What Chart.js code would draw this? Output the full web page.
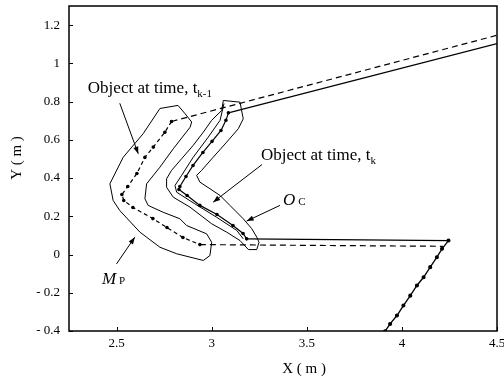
<!DOCTYPE html>
<html>
<head>
<meta charset="utf-8">
<script src="https://cdn.jsdelivr.net/npm/chart.js@4.4.1/dist/chart.umd.min.js"></script>
<style>
    html, body { margin: 0; padding: 0; background: #fff; }
    #wrap { width: 504px; height: 379px; position: relative; }
</style>
</head>
<body>
<div id="wrap"><canvas id="chart"></canvas></div>
<script>
// Axis ticks
const xTicks = [2.5, 3, 3.5, 4, 4.5];
const xTickLabels = ['2.5', '3', '3.5', '4', '4.5'];
const yTicks = [-0.4, -0.2, 0, 0.2, 0.4, 0.6, 0.8, 1, 1.2];
const yTickLabels = ['- 0.4', '- 0.2', '0', '0.2', '0.4', '0.6', '0.8', '1', '1.2'];

// Scan at time t_k (solid with dots)
const scanTk = [[3.088, 0.741], [3.075, 0.702], [3.049, 0.649], [3.002, 0.592], [2.954, 0.534],
    [2.902, 0.466], [2.865, 0.408], [2.833, 0.356], [2.828, 0.340], [2.871, 0.309],
    [2.938, 0.257], [3.028, 0.209], [3.112, 0.152], [3.165, 0.110], [3.184, 0.082]];

// Scan at time t_k-1 (dashed with dots)
const scanTk1 = [[2.789, 0.696], [2.754, 0.640], [2.693, 0.562], [2.649, 0.508], [2.607, 0.424],
    [2.559, 0.356], [2.528, 0.314], [2.538, 0.283], [2.586, 0.246], [2.691, 0.188],
    [2.765, 0.141], [2.849, 0.089], [2.938, 0.052]];

// Long walls
const upperSolid = [[3.088, 0.741], [4.5, 1.103]];
const upperDashed = [[2.789, 0.696], [4.5, 1.147]];
const lowerSolid = [[3.184, 0.082], [4.245, 0.073]];
const lowerDashed = [[2.938, 0.052], [4.216, 0.043]];
const slantWall = [[4.245, 0.073], [4.211, 0.030], [4.184, -0.014], [4.149, -0.066], [4.114, -0.119],
    [4.079, -0.162], [4.044, -0.215], [4.008, -0.267], [3.974, -0.319], [3.938, -0.363], [3.912, -0.401]];

// Outline M_P
const outlineMP = [[2.728, 0.764], [2.823, 0.780], [2.859, 0.738], [2.895, 0.693], [2.886, 0.665],
    [2.798, 0.553], [2.728, 0.457], [2.658, 0.370], [2.649, 0.292], [2.666, 0.257],
    [2.745, 0.221], [2.833, 0.187], [2.868, 0.152], [2.974, 0.108], [3.000, 0.064],
    [2.991, -0.005], [2.956, -0.031], [2.816, 0.004], [2.728, 0.038], [2.623, 0.117],
    [2.517, 0.230], [2.482, 0.283], [2.465, 0.370], [2.535, 0.509], [2.640, 0.632], [2.728, 0.764]];

// Outline O_C
const outlineOC = [[3.061, 0.806], [3.149, 0.797], [3.166, 0.710], [3.140, 0.658], [3.079, 0.588],
    [3.008, 0.509], [2.947, 0.440], [2.921, 0.414], [2.938, 0.379], [2.991, 0.344],
    [3.044, 0.309], [3.096, 0.257], [3.166, 0.187], [3.211, 0.135], [3.237, 0.091],
    [3.249, 0.064], [3.237, 0.026], [3.193, 0.026], [3.149, 0.073], [3.079, 0.117],
    [3.000, 0.161], [2.886, 0.248], [2.798, 0.300], [2.763, 0.352], [2.763, 0.396],
    [2.789, 0.440], [2.842, 0.501], [2.903, 0.571], [2.956, 0.640], [3.000, 0.702],
    [3.053, 0.754], [3.061, 0.806]];

// Object at t_k (thin outline next to the scan)
const objectTk = [[3.065, 0.790], [3.044, 0.702], [2.982, 0.614], [2.903, 0.509], [2.842, 0.414],
    [2.807, 0.361], [2.816, 0.326], [2.912, 0.265], [3.026, 0.195], [3.132, 0.126], [3.166, 0.082]];

// Annotation arrows: tail, tip
const arrows = [
    [[2.517, 0.791], [2.614, 0.527]],
    [[2.500, -0.049], [2.596, 0.091]],
    [[3.265, 0.471], [3.008, 0.274]],
    [[3.359, 0.257], [3.184, 0.175]]
];

// Annotation texts
const notes = [
    { text: 'Object at time, t', sub: 'k-1', x: 2.349, y: 0.843, italic: false },
    { text: 'Object at time, t', sub: 'k', x: 3.259, y: 0.497, italic: false },
    { text: 'O', sub: 'C', x: 3.375, y: 0.257, italic: true },
    { text: 'M', sub: 'P', x: 2.423, y: -0.152, italic: true }
];

const FONT = "'Liberation Serif', 'DejaVu Serif', serif";

function pts(arr) {
    return arr.map(p => ({ x: p[0], y: p[1] }));
}

function lineSet(arr, opts) {
    return Object.assign({
        data: pts(arr),
        showLine: true,
        borderColor: '#000',
        backgroundColor: '#000',
        borderWidth: 1,
        pointRadius: 0,
        fill: false,
        tension: 0
    }, opts || {});
}

const datasets = [
    lineSet(upperSolid, { borderWidth: 1.2 }),
    lineSet(upperDashed, { borderWidth: 1.2, borderDash: [6, 4] }),
    lineSet(lowerSolid, { borderWidth: 1.2 }),
    lineSet(lowerDashed, { borderWidth: 1.2, borderDash: [6, 4] }),
    lineSet(scanTk, { borderWidth: 1.2, pointRadius: 1.2 }),
    lineSet(scanTk1, { borderWidth: 1.2, borderDash: [4, 3], pointRadius: 1.2 }),
    lineSet(slantWall, { borderWidth: 1.3, pointRadius: 1.4 }),
    lineSet(outlineMP),
    lineSet(outlineOC),
    lineSet(objectTk)
];
arrows.forEach(a => datasets.push(lineSet(a)));

// Frame, inward ticks, arrowheads, texts
const decorPlugin = {
    id: 'decor',
    afterDraw(chart) {
        const { ctx, chartArea: a, scales: { x, y } } = chart;
        ctx.save();
        ctx.strokeStyle = '#000';
        ctx.fillStyle = '#000';

        ctx.lineWidth = 1.5;
        ctx.strokeRect(a.left, a.top, a.right - a.left, a.bottom - a.top);

        ctx.lineWidth = 1;
        xTicks.forEach(v => {
            const px = Math.round(x.getPixelForValue(v)) + 0.5;
            ctx.beginPath();
            ctx.moveTo(px, a.bottom);
            ctx.lineTo(px, a.bottom - 4);
            ctx.stroke();
        });
        yTicks.forEach(v => {
            const py = Math.round(y.getPixelForValue(v)) + 0.5;
            ctx.beginPath();
            ctx.moveTo(a.left, py);
            ctx.lineTo(a.left + 4, py);
            ctx.stroke();
        });

        // arrowheads
        arrows.forEach(ar => {
            const x0 = x.getPixelForValue(ar[0][0]), y0 = y.getPixelForValue(ar[0][1]);
            const x1 = x.getPixelForValue(ar[1][0]), y1 = y.getPixelForValue(ar[1][1]);
            const ang = Math.atan2(y1 - y0, x1 - x0);
            const len = 7, w = 2.6;
            ctx.beginPath();
            ctx.moveTo(x1, y1);
            ctx.lineTo(x1 - len * Math.cos(ang) + w * Math.sin(ang), y1 - len * Math.sin(ang) - w * Math.cos(ang));
            ctx.lineTo(x1 - len * Math.cos(ang) - w * Math.sin(ang), y1 - len * Math.sin(ang) + w * Math.cos(ang));
            ctx.closePath();
            ctx.fill();
        });

        // annotation texts
        ctx.textBaseline = 'alphabetic';
        ctx.textAlign = 'left';
        notes.forEach(n => {
            const px = x.getPixelForValue(n.x), py = y.getPixelForValue(n.y);
            ctx.font = (n.italic ? 'italic ' : '') + '17px ' + FONT;
            ctx.fillText(n.text, px, py);
            const w = ctx.measureText(n.text).width;
            ctx.font = '11px ' + FONT;
            if (n.italic) {
                ctx.fillText(n.sub, px + w + 3, py);
            } else {
                ctx.fillText(n.sub, px + w, py + 4);
            }
        });

        // axis titles
        ctx.font = '15px ' + FONT;
        ctx.textAlign = 'center';
        ctx.textBaseline = 'middle';
        ctx.fillText('X ( m )', 304, 369);
        ctx.translate(17, 158);
        ctx.rotate(-Math.PI / 2);
        ctx.fillText('Y ( m )', 0, 0);
        ctx.restore();
    }
};

new Chart(document.getElementById('chart'), {
    type: 'scatter',
    data: { datasets: datasets },
    options: {
        responsive: true,
        maintainAspectRatio: false,
        animation: false,
        layout: { padding: { top: 6, right: 7, left: 0, bottom: 0 } },
        plugins: {
            legend: { display: false },
            tooltip: { enabled: false }
        },
        scales: {
            x: {
                type: 'linear',
                min: 2.25,
                max: 4.5,
                afterBuildTicks: s => { s.ticks = xTicks.map(v => ({ value: v })); },
                afterFit: s => { s.height = 48; s.paddingLeft = 0; s.paddingRight = 0; },
                grid: { display: false, drawTicks: false },
                border: { display: false },
                ticks: {
                    padding: 5,
                    maxRotation: 0,
                    color: '#000',
                    font: { family: FONT, size: 13 },
                    callback: (v, i) => xTickLabels[i]
                }
            },
            y: {
                type: 'linear',
                min: -0.4,
                max: 1.3,
                afterBuildTicks: s => { s.ticks = yTicks.map(v => ({ value: v })); },
                afterFit: s => { s.width = 69; s.paddingTop = 0; s.paddingBottom = 0; },
                grid: { display: false, drawTicks: false },
                border: { display: false },
                ticks: {
                    padding: 9,
                    color: '#000',
                    font: { family: FONT, size: 13 },
                    callback: (v, i) => yTickLabels[i]
                }
            }
        }
    },
    plugins: [decorPlugin]
});
</script>
</body>
</html>
